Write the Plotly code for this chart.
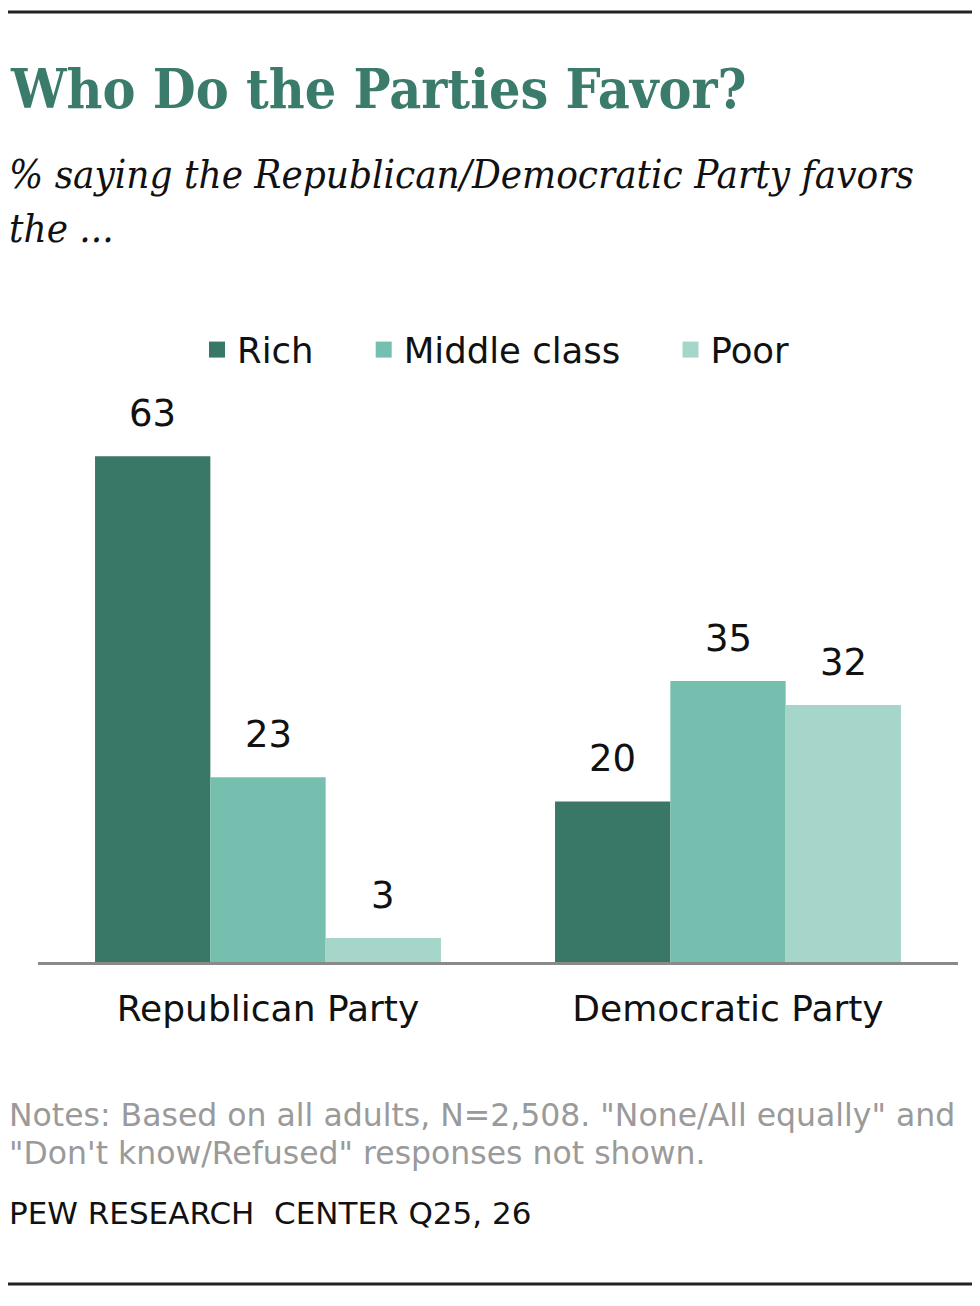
import plotly.graph_objects as go

categories = ["Republican Party", "Democratic Party"]
series_names = ["Rich", "Middle class", "Poor"]
rich = [63, 20]
middle_class = [23, 35]
poor = [3, 32]
series_values = [rich, middle_class, poor]
colors = ["#397766", "#76bfae", "#a6d6ca"]

# page body has an 8px margin; work in reference pixel coords and subtract it
OFF = 8
W, H = 980 - OFF, 1306 - OFF
BASE_REF = 962
TOP_REF = 400
ML = 38 - OFF
MR = W - (958 - OFF)
MB = H - (BASE_REF - OFF)
MT = TOP_REF - OFF
PW = W - ML - MR
PH = H - MT - MB


def px_x(x):
    return (x - OFF - ML) / PW


def px_y(y):
    return (BASE_REF - y) / PH


SANS = "DejaVu Sans"
SLAB = "DejaVu Serif Condensed, DejaVu Serif"

fig = go.Figure()
for name, vals, col in zip(series_names, series_values, colors):
    fig.add_trace(go.Bar(
        x=categories, y=vals, name=name, legendgroup=name, showlegend=False,
        marker=dict(color=col, line=dict(width=0)),
        hoverinfo="skip",
    ))
# legend entries with larger square swatches
for name, col in zip(series_names, colors):
    fig.add_trace(go.Scatter(
        x=[None], y=[None], mode="markers", name=name + "\u00a0" * 4, legendgroup=name,
        marker=dict(symbol="square", size=20, color=col, line=dict(width=0)),
        hoverinfo="skip",
    ))

bargap = 0.248
bar_w = PW / len(categories) * (1 - bargap) / len(series_names)
annotations = []
for i, vals in enumerate(series_values):
    for cat, v in zip(categories, vals):
        annotations.append(dict(
            x=cat, y=v, xref="x", yref="y", text=str(v), showarrow=False,
            xshift=(i - 1) * bar_w, yshift=19, yanchor="bottom",
            font=dict(family=SANS, size=37, color="#111111"),
        ))

annotations += [
    dict(x=px_x(8), y=px_y(88), xref="paper", yref="paper", xanchor="left", yanchor="middle",
         text="Who Do the Parties Favor?", showarrow=False,
         font=dict(family=SLAB, size=55, color="#3b7b6b", weight="bold")),
    dict(x=px_x(7), y=px_y(174), xref="paper", yref="paper", xanchor="left", yanchor="middle",
         text="% saying the Republican/Democratic Party favors", showarrow=False,
         font=dict(family=SLAB, size=40, color="#111111", style="italic")),
    dict(x=px_x(7), y=px_y(228), xref="paper", yref="paper", xanchor="left", yanchor="middle",
         text="the ...", showarrow=False,
         font=dict(family=SLAB, size=40, color="#111111", style="italic")),
    dict(x=px_x(7), y=px_y(1115), xref="paper", yref="paper", xanchor="left", yanchor="middle",
         text="Notes: Based on all adults, N=2,508. \"None/All equally\" and",
         showarrow=False, font=dict(family=SANS, size=31.5, color="#9a9a9a")),
    dict(x=px_x(7), y=px_y(1153), xref="paper", yref="paper", xanchor="left", yanchor="middle",
         text="\"Don't know/Refused\" responses not shown.",
         showarrow=False, font=dict(family=SANS, size=31.5, color="#9a9a9a")),
    dict(x=px_x(7), y=px_y(1213), xref="paper", yref="paper", xanchor="left", yanchor="middle",
         text="PEW RESEARCH  CENTER Q25, 26", showarrow=False,
         font=dict(family=SANS, size=31, color="#111111")),
]

shapes = [
    dict(type="line", xref="paper", yref="paper", x0=px_x(8), x1=px_x(972), y0=px_y(12), y1=px_y(12),
         line=dict(color="#222222", width=3)),
    dict(type="line", xref="paper", yref="paper", x0=px_x(8), x1=px_x(972), y0=px_y(1284), y1=px_y(1284),
         line=dict(color="#222222", width=3)),
]

fig.update_layout(
    width=W, height=H,
    margin=dict(l=ML, r=MR, t=MT, b=MB, pad=0),
    paper_bgcolor="white", plot_bgcolor="white",
    barmode="group", bargap=bargap, bargroupgap=0,
    showlegend=True,
    legend=dict(orientation="h", x=px_x(197), xanchor="left", y=px_y(350), yanchor="middle",
                font=dict(family=SANS, size=35.5, color="#111111"), traceorder="normal",
                itemsizing="trace", bgcolor="rgba(0,0,0,0)"),
    xaxis=dict(showgrid=False, zeroline=False, showline=True, linecolor="#8a8a8a", linewidth=3,
               ticks="", tickfont=dict(family=SANS, size=36, color="#111111"), ticklabelstandoff=13,
               fixedrange=True),
    yaxis=dict(range=[0, 70], showgrid=False, zeroline=False, showline=False, showticklabels=False,
               ticks="", fixedrange=True),
    annotations=annotations,
    shapes=shapes,
)

fig.write_html("out.html")
